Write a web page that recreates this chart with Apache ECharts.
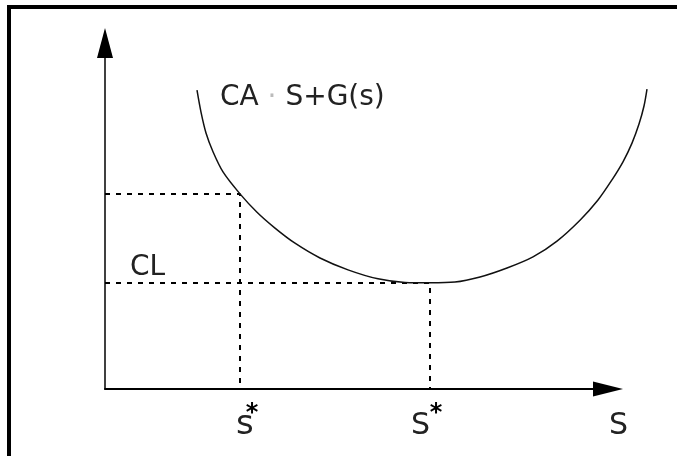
<!DOCTYPE html>
<html>
<head>
<meta charset="utf-8">
<script src="https://cdn.jsdelivr.net/npm/echarts@6/dist/echarts.min.js"></script>
<style>
  html, body { margin: 0; padding: 0; background: #fff; }
  #chart { width: 677px; height: 456px; }
</style>
</head>
<body>
<div id="chart"></div>
<script>
// curve CA·S+G(s)
var curveX = [1.84, 1.92, 2.02, 2.16, 2.36, 2.70, 3.04, 3.40, 3.80, 4.30, 4.86, 5.46, 6.00, 6.50, 7.00, 7.50, 8.04, 8.56, 9.04, 9.50, 9.86, 10.14, 10.36, 10.54, 10.68, 10.78, 10.84];
var curveY = [8.30, 7.69, 7.11, 6.59, 6.03, 5.42, 4.91, 4.47, 4.05, 3.64, 3.31, 3.06, 2.96, 2.95, 2.97, 3.11, 3.36, 3.67, 4.11, 4.69, 5.25, 5.81, 6.31, 6.83, 7.36, 7.86, 8.33];
// s* and S* with the cost at each
var markX = [2.70, 6.50];
var markY = [5.417, 2.944];

var curve = [];
for (var i = 0; i < curveX.length; i++) {
  curve.push([curveX[i], curveY[i]]);
}

var myChart = echarts.init(document.getElementById("chart"));

var dashSeries = [];
for (var j = 0; j < markX.length; j++) {
  dashSeries.push({
    type: "line",
    xAxisIndex: 0,
    yAxisIndex: 0,
    data: [[0, markY[j]], [markX[j], markY[j]], [markX[j], 0]],
    showSymbol: false,
    silent: true,
    lineStyle: { color: "#000", width: 2, type: [5, 6] },
  });
}

var hiddenAxis = {
  axisLine: { show: false },
  axisTick: { show: false },
  axisLabel: { show: false },
  splitLine: { show: false },
};

var font = "DejaVu Sans";
var option = {
  backgroundColor: "#fff",
  animation: false,
  // grid 0 carries the arrowed axes (arrow heads stick out past it),
  // grid 1 has the same scale but is wider so the curve can run past the arrow
  grid: [
    { left: 105, top: 43, width: 503, height: 346 },
    { left: 105, top: 29, width: 550, height: 360 },
  ],
  xAxis: [
    {
      type: "value",
      gridIndex: 0,
      min: 0,
      max: 10.06,
      axisLine: {
        show: true,
        symbol: ["none", "triangle"],
        symbolSize: [15, 30],
        lineStyle: { color: "#000", width: 2 },
      },
      axisTick: { show: false },
      axisLabel: { show: false },
      splitLine: { show: false },
    },
    Object.assign({ type: "value", gridIndex: 1, min: 0, max: 11 }, hiddenAxis),
  ],
  yAxis: [
    {
      type: "value",
      gridIndex: 0,
      min: 0,
      max: 9.6111,
      axisLine: {
        show: true,
        symbol: ["none", "triangle"],
        symbolSize: [16, 30],
        lineStyle: { color: "#000", width: 1.5 },
      },
      axisTick: { show: false },
      axisLabel: { show: false },
      splitLine: { show: false },
    },
    Object.assign({ type: "value", gridIndex: 1, min: 0, max: 10 }, hiddenAxis),
  ],
  series: dashSeries.concat([
    {
      type: "line",
      xAxisIndex: 1,
      yAxisIndex: 1,
      data: curve,
      smooth: 0.3,
      showSymbol: false,
      silent: true,
      lineStyle: { color: "#111", width: 1.5 },
    },
  ]),
  graphic: [
    {
      type: "rect",
      shape: { x: 9, y: 7, width: 720, height: 520 },
      style: { fill: "none", stroke: "#000", lineWidth: 4 },
      silent: true,
    },
    {
      type: "text",
      x: 220,
      y: 98,
      style: {
        text: "{a|CA}{d| · }{a|S+G(s)}",
        verticalAlign: "middle",
        rich: {
          a: { fontFamily: font, fontSize: 28, fill: "#222" },
          d: { fontFamily: font, fontSize: 28, fill: "#bbb" },
        },
      },
    },
    {
      type: "text",
      x: 130,
      y: 268,
      style: { text: "CL", fontFamily: font, fontSize: 28, fill: "#222", verticalAlign: "middle" },
    },
    {
      type: "text",
      x: 236,
      y: 425,
      style: { text: "s", fontFamily: font, fontSize: 34, fill: "#222", verticalAlign: "middle" },
    },
    {
      type: "text",
      x: 252,
      y: 414,
      style: { text: "*", fontFamily: font, fontSize: 24, fontWeight: "bold", fill: "#000", align: "center", verticalAlign: "middle" },
    },
    {
      type: "text",
      x: 411,
      y: 426,
      style: { text: "S", fontFamily: font, fontSize: 30, fill: "#222", verticalAlign: "middle" },
    },
    {
      type: "text",
      x: 436,
      y: 414,
      style: { text: "*", fontFamily: font, fontSize: 24, fontWeight: "bold", fill: "#000", align: "center", verticalAlign: "middle" },
    },
    {
      type: "text",
      x: 609,
      y: 426,
      style: { text: "S", fontFamily: font, fontSize: 30, fill: "#222", verticalAlign: "middle" },
    },
  ],
};
myChart.setOption(option);
</script>
</body>
</html>
